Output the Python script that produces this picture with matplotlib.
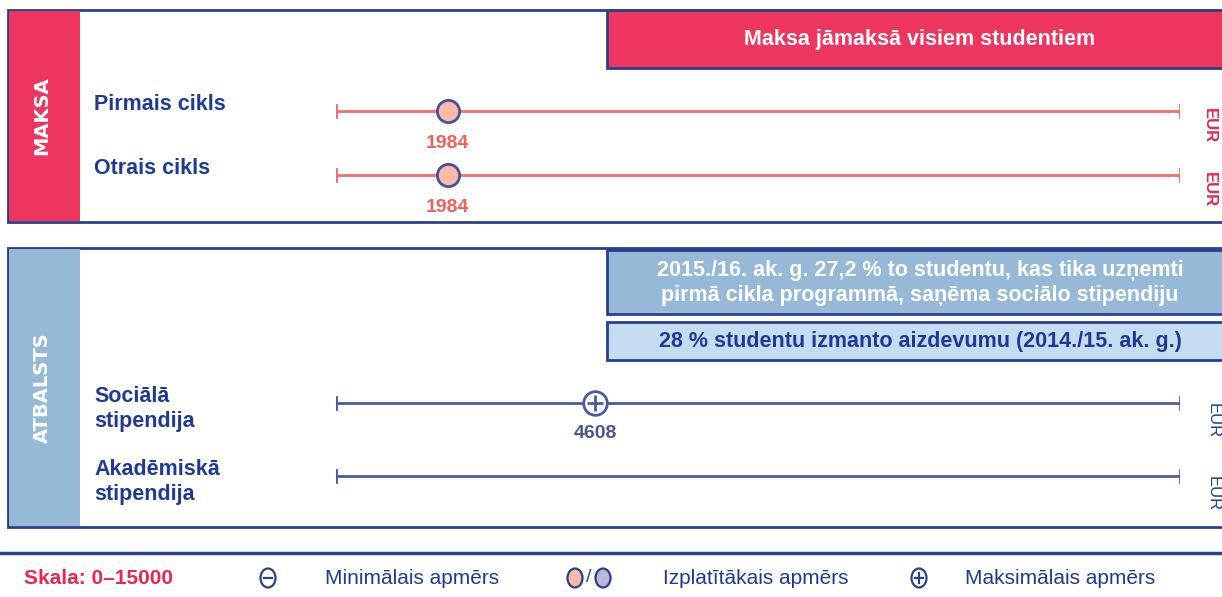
import matplotlib
matplotlib.use("Agg")
import matplotlib.pyplot as plt
from matplotlib.patches import Rectangle, Ellipse

# scale and values
scale_max = 15000
fee_rows = ["Pirmais cikls", "Otrais cikls"]
fee_common = [1984, 1984]
support_rows = ["Sociālā\nstipendija", "Akadēmiskā\nstipendija"]
support_max = [4608, None]

fee_note = "Maksa jāmaksā visiem studentiem"
grant_note = "2015./16. ak. g. 27,2 % to studentu, kas tika uzņemti\npirmā cikla programmā, saņēma sociālo stipendiju"
loan_note = "28 % studentu izmanto aizdevumu (2014./15. ak. g.)"

NAVY = "#2b3f8f"
LABEL = "#1f3a93"
RED = "#ee3560"
RED_LINE = "#f26d6d"
RED_TXT = "#f0605d"
PEACH = "#f7bba6"
GREY_DOT = "#b5b9d6"
BLUE = "#97b9d8"
LIGHT_BLUE = "#c5dcf0"
SUP_LINE = "#4c5a9e"
FONT = ["Liberation Sans", "DejaVu Sans"]

plt.rcParams["font.family"] = FONT

W, H = 1222, 597
fig = plt.figure(figsize=(W / 100, H / 100), dpi=100)
ax = fig.add_axes([0, 0, 1, 1])
ax.set_xlim(0, W)
ax.set_ylim(H, 0)
ax.axis("off")

# value axis for the 0-15000 scale lines
x0, x1 = 336, 1180
sax = fig.add_axes([x0 / W, 0, (x1 - x0) / W, 1])
sax.set_xlim(0, scale_max)
sax.set_ylim(H, 0)
sax.axis("off")
sax.patch.set_alpha(0)


def panel(top, bottom, band_color, title):
    ax.add_patch(Rectangle((8, top), W + 10, bottom - top, facecolor="white",
                           edgecolor=NAVY, linewidth=2, zorder=1))
    ax.add_patch(Rectangle((9, top + 1), 71, bottom - top - 2, facecolor=band_color,
                           edgecolor="none", zorder=2))
    ax.text(42, (top + bottom) / 2, title, rotation=90, ha="center", va="center",
            color="white", fontsize=14, fontweight="bold", family="DejaVu Sans", zorder=3)


def note_box(top, bottom, color, text, tcolor, size=15.5):
    ax.add_patch(Rectangle((607, top), W, bottom - top, facecolor=color,
                           edgecolor=NAVY, linewidth=2, zorder=3))
    ax.text(920, (top + bottom) / 2 + 1, text, ha="center", va="center", color=tcolor,
            fontsize=size, fontweight="bold", linespacing=1.3, zorder=4)


def scale_line(y, color):
    sax.plot([0, scale_max], [y, y], color=color, lw=2, zorder=5, solid_capstyle="butt")
    for v in (0, scale_max):
        sax.plot([v, v], [y - 6, y + 6], color=color, lw=2, zorder=5)


def legend_icon(x, y, face, sign=None):
    ax.add_patch(Ellipse((x, y), 15, 19, facecolor=face, edgecolor=NAVY, lw=1.6, zorder=5))
    if sign is not None:
        ax.plot([x - 4, x + 4], [y, y], color=NAVY, lw=1.6, zorder=6)
        if sign == "+":
            ax.plot([x, x], [y - 5, y + 5], color=NAVY, lw=1.6, zorder=6)


# fees panel
panel(10, 222, RED, "MAKSA")
note_box(10, 68, RED, fee_note, "white")
for i, (name, val) in enumerate(zip(fee_rows, fee_common)):
    y = 111 + i * 64
    ax.text(94, y - 6, name, ha="left", va="center", color=LABEL, fontsize=15.5,
            fontweight="bold", zorder=4)
    scale_line(y, RED_LINE)
    sax.plot(val, y, "o", ms=16, mfc=PEACH, mec="#4a4f9a", mew=2, zorder=6)
    sax.text(val, y + 32, f"{val}", ha="center", va="center", color=RED_TXT,
             fontsize=14, fontweight="bold", zorder=6)
    ax.text(1209, y - 3, "EUR", rotation=-90, ha="center", va="top", color="#e8264f",
            fontsize=12, fontweight="bold", zorder=4)

# support panel
panel(248, 527, BLUE, "ATBALSTS")
note_box(250, 314, BLUE, grant_note, "white", size=15.5)
note_box(322, 360, LIGHT_BLUE, loan_note, LABEL, size=15.5)
for i, (name, val) in enumerate(zip(support_rows, support_max)):
    y = 403 + i * 73
    ax.text(94, y + 6, name, ha="left", va="center", color=LABEL, fontsize=15.5,
            fontweight="bold", linespacing=1.2, zorder=4)
    scale_line(y, SUP_LINE)
    if val is not None:
        sax.plot(val, y, "o", ms=17, mfc="white", mec=SUP_LINE, mew=2, zorder=6)
        sax.plot(val, y, "+", ms=11, mec=SUP_LINE, mew=2, zorder=7)
        sax.text(val, y + 30, f"{val}", ha="center", va="center", color="#4a5590",
                 fontsize=14, fontweight="bold", zorder=6)
    ax.text(1213, y, "EUR", rotation=-90, ha="center", va="top", color=LABEL,
            fontsize=12, zorder=4)

# legend strip
ax.plot([0, W], [553, 553], color=NAVY, lw=2.5)
ly = 578
ax.text(24, ly, "Skala: 0–15000", ha="left", va="center", color="#e8264f",
        fontsize=15, fontweight="bold")
legend_icon(268, ly, "white", "-")
ax.text(325, ly, "Minimālais apmērs", ha="left", va="center", color=LABEL, fontsize=15)
legend_icon(575, ly, PEACH)
ax.text(589, ly, "/", ha="center", va="center", color=NAVY, fontsize=14)
legend_icon(603, ly, GREY_DOT)
ax.text(663, ly, "Izplatītākais apmērs", ha="left", va="center", color=LABEL, fontsize=15)
legend_icon(919, ly, "white", "+")
ax.text(965, ly, "Maksimālais apmērs", ha="left", va="center", color=LABEL, fontsize=15)

fig.savefig("out.png", dpi=100)
